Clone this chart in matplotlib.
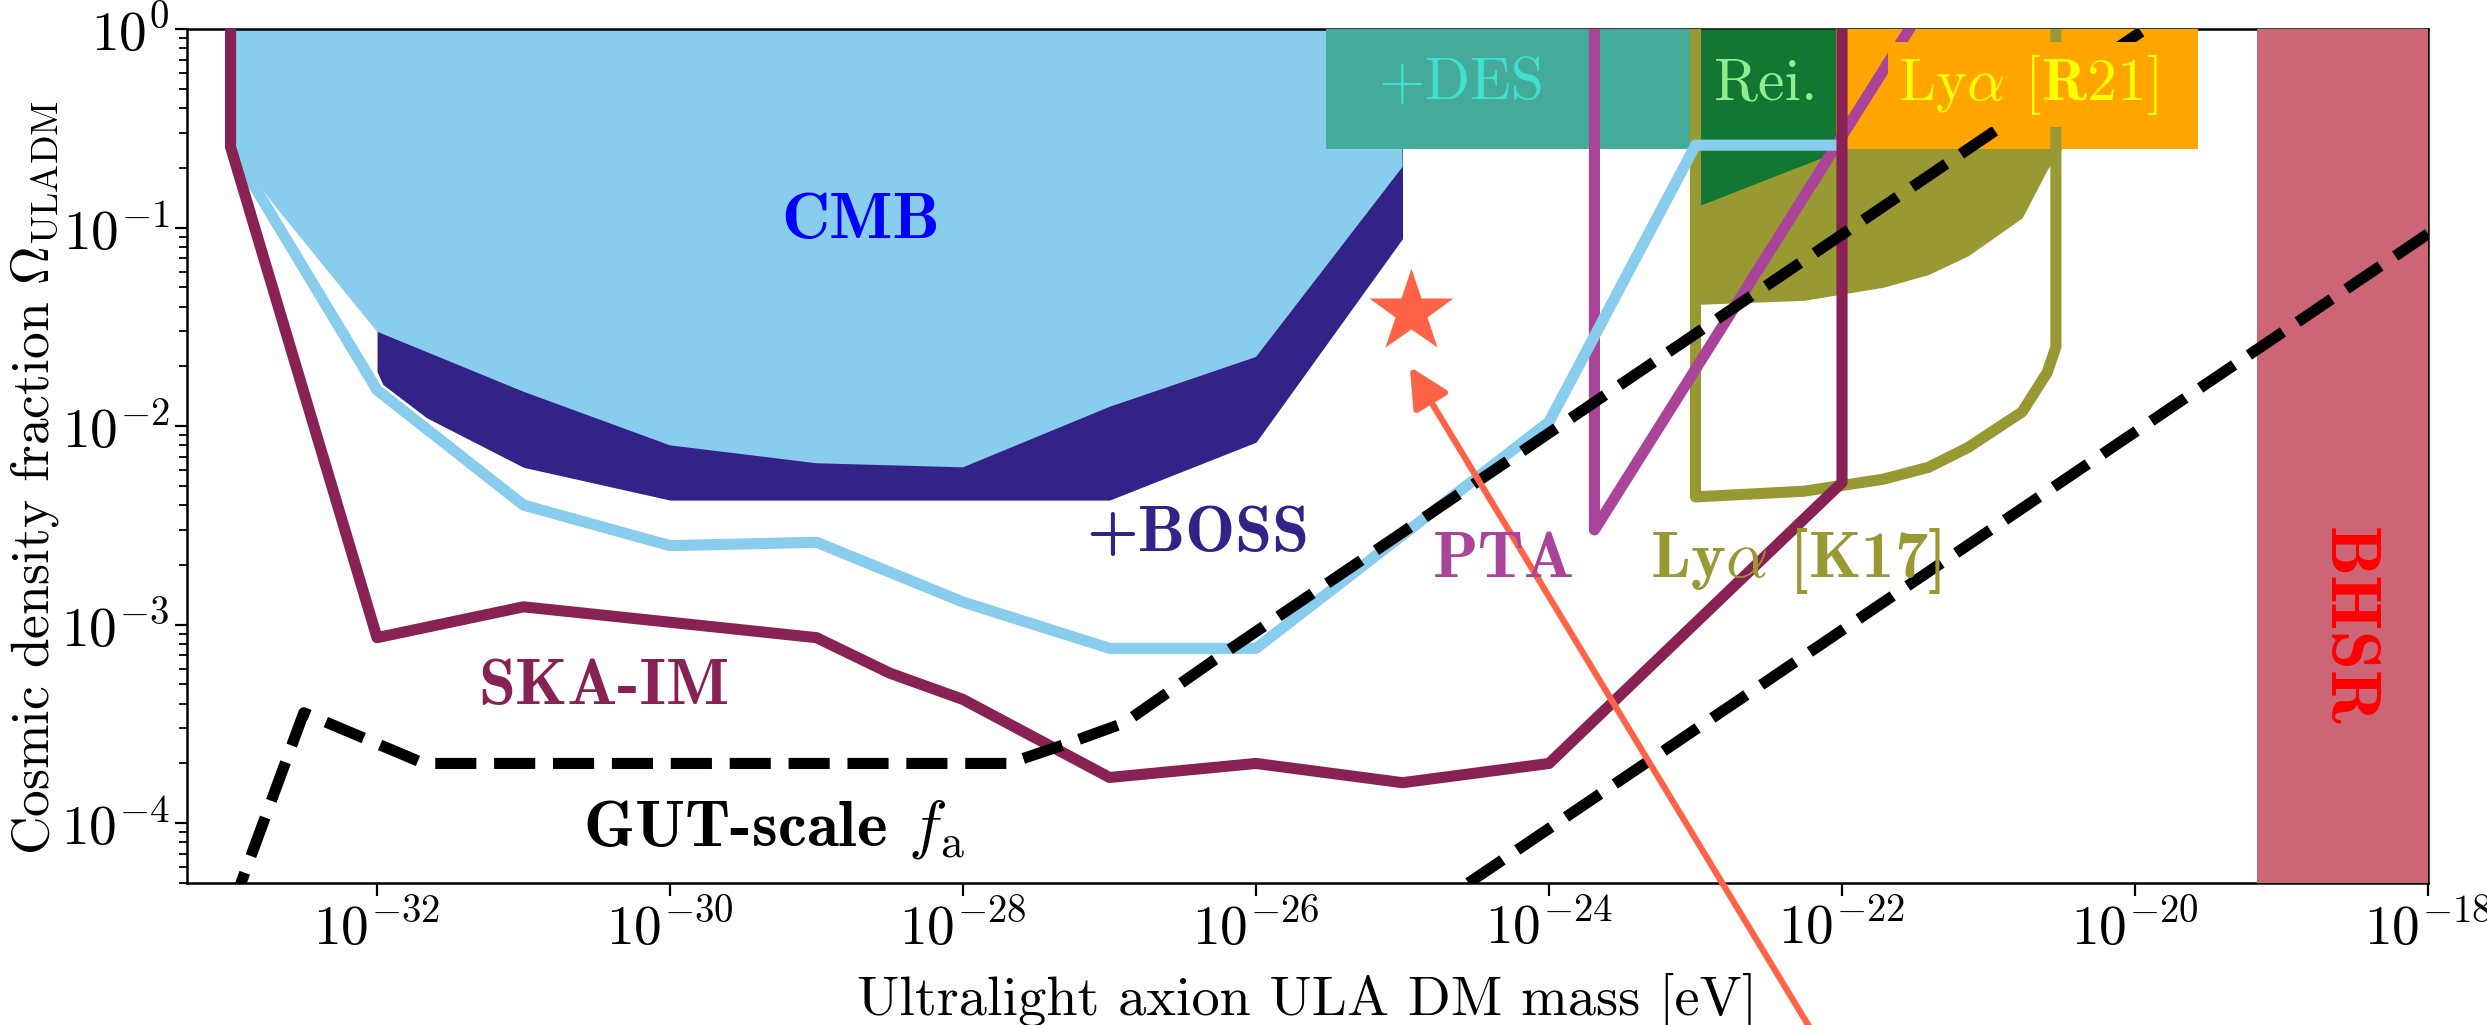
import numpy as np
import matplotlib
matplotlib.use("Agg")
import matplotlib.pyplot as plt
from matplotlib.ticker import NullLocator, LogLocator

plt.rcParams.update({
    "font.family": "serif",
    "font.serif": ["cmr10"],
    "mathtext.fontset": "cm",
    "axes.formatter.use_mathtext": True,
    "axes.unicode_minus": False,
})

# masses given as log10(m / eV), density fractions as plain numbers
cmb_logm = [-33, -33, -32.71, -32, -31, -30, -29, -28, -27, -26, -25, -25]
cmb_omega = [1, 0.255, 0.132, 0.0299, 0.0149, 0.0080, 0.0065, 0.0062, 0.0125, 0.0223, 0.202, 1]

boss_logm = [-32, -31.96, -31.66, -31, -30, -29, -28, -27, -26, -25]
boss_omega = [0.0188, 0.0162, 0.011, 0.0062, 0.00424, 0.00424, 0.00424, 0.00424, 0.0083, 0.088]

cmbs4_logm = [-33, -33, -32, -31, -30, -29, -28, -27, -26, -24, -23, -22]
cmbs4_omega = [1, 0.255, 0.0152, 0.0040, 0.0025, 0.0026, 0.0013, 0.00076, 0.00076, 0.0105, 0.26, 0.26]

ska_logm = [-33, -33, -32, -31, -29, -28.5, -28, -27, -26, -25, -24, -22, -22]
ska_omega = [1, 0.255, 8.6e-4, 1.23e-3, 8.6e-4, 5.7e-4, 4.2e-4, 1.7e-4, 2.0e-4, 1.6e-4, 2.0e-4, 5.2e-3, 1]

pta_logm = [-23.69, -23.69, -21.54]
pta_omega = [1, 3.0e-3, 1]

k17_fill_logm = [-23.0, -22.26, -21.72, -21.41, -21.14, -20.77, -20.6, -20.5]
k17_fill_omega = [0.041, 0.043, 0.050, 0.058, 0.072, 0.112, 0.195, 0.25]
k17_line_logm = [-23.0, -23.0, -22.26, -21.72, -21.41, -21.14, -20.77, -20.6, -20.54, -20.54]
k17_line_omega = [1, 0.0044, 0.0047, 0.0054, 0.0062, 0.0078, 0.0118, 0.0186, 0.025, 1]

rei_logm = [-23.0, -22.04]
rei_omega = [0.127, 0.24]

gut_logm = [-33.0, -32.5, -31.68, -27.69, -27.3, -26.9, -26.24, -19.93]
gut_omega = [3.6e-5, 3.6e-4, 2.0e-4, 2.0e-4, 2.5e-4, 3.2e-4, 7.0e-4, 1.0]
gut2_logm = [-24.55, -18.0]
gut2_omega = [5e-5, 0.093]

des_logm = [-25.52, -23.02]
r21_logm = [-22.04, -19.57]
bhsr_logm = [-19.17, -18.0]
box_floor = 0.249

star_logm, star_omega = -24.94, 0.0377
arrow_tip = (-24.95, 0.0199)
arrow_tail = (-21.96, 4.5e-6)


def m(v):
    return 10.0 ** np.asarray(v, dtype=float)


cmb_blue = "#88CCEE"
indigo = "#332288"
teal = "#44AA99"
green = "#117733"
olive = "#999933"
rose = "#CC6677"
wine = "#882255"
purple = "#AA4499"
orange = "#FFA500"
tomato = "#FF6347"

fig = plt.figure(figsize=(24.87, 10.25), dpi=100)
ax = fig.add_axes([0.07503, 0.13854, 0.90125, 0.83317])
ax.set_xscale("log")
ax.set_yscale("log")

# excluded regions
ax.fill_between(m(boss_logm), boss_omega, 1, color=indigo, lw=0, zorder=1)
ax.fill(m(cmb_logm), cmb_omega, color=cmb_blue, lw=0, zorder=1.1)
ax.fill_between(m(k17_fill_logm), k17_fill_omega, 1, color=olive, lw=0, zorder=1)
ax.fill_between(m(rei_logm), rei_omega, 1, color=green, lw=0, zorder=2.6)
ax.fill_between(m(des_logm), box_floor, 1, color=teal, lw=0, zorder=2.6)
ax.fill_between(m(r21_logm), box_floor, 1, color=orange, lw=0, zorder=2.6)
ax.fill_between(m(bhsr_logm), 5e-5, 1, color=rose, lw=0, zorder=2.6)

# forecasts and other bounds
lw = 8
ax.plot(m(k17_line_logm), k17_line_omega, color=olive, lw=lw, zorder=3)
ax.plot(m(pta_logm), pta_omega, color=purple, lw=lw, zorder=3.1)
ax.plot(m(cmbs4_logm), cmbs4_omega, color=cmb_blue, lw=lw, zorder=3.2)
ax.plot(m(ska_logm), ska_omega, color=wine, lw=lw, zorder=3.3)
ax.plot(m(gut_logm), gut_omega, color="black", lw=lw, ls="--", zorder=3.4)
ax.plot(m(gut2_logm), gut2_omega, color="black", lw=lw, ls="--", zorder=3.4)

ax.plot([10.0 ** star_logm], [star_omega], marker="*", ms=63, color=tomato,
        mec="none", zorder=4)
ax.annotate("", xy=(10.0 ** arrow_tip[0], arrow_tip[1]),
            xytext=(10.0 ** arrow_tail[0], arrow_tail[1]),
            arrowprops=dict(arrowstyle="-|>", color=tomato, lw=4.5,
                            mutation_scale=60, shrinkA=0, shrinkB=0),
            annotation_clip=False, zorder=4)

fs = 43
bfs = 48
bold = "cmb10"
ax.text(10 ** -28.70, 10 ** -0.972, "CMB", color="#0000FF", fontsize=bfs,
        family=bold, ha="center", va="center", zorder=6)
ax.text(10 ** -26.40, 10 ** -2.55, "+BOSS", color=indigo, fontsize=bfs,
        family=bold, ha="center", va="center", zorder=6)
ax.text(10 ** -30.45, 10 ** -3.32, "SKA-IM", color=wine, fontsize=bfs,
        family=bold, ha="center", va="center", zorder=6)
ax.text(10 ** -29.29, 10 ** -4.03, r"GUT-scale $f_{\rm a}$", color="black",
        fontsize=47, family=bold, ha="center", va="center", zorder=6)
ax.text(10 ** -24.31, 10 ** -2.68, "PTA", color=purple, fontsize=bfs,
        family=bold, ha="center", va="center", zorder=6)
ax.text(10 ** -22.32, 10 ** -2.68, r"Ly$\alpha$ [K17]", color=olive, fontsize=bfs,
        family=bold, ha="center", va="center", zorder=6)
ax.text(10 ** -24.60, 10 ** -0.28, "+DES", color="#40E0D0", fontsize=fs,
        ha="center", va="center", zorder=6,
        bbox=dict(boxstyle="square,pad=0.17", fc=teal, ec="none"))
ax.text(10 ** -22.52, 10 ** -0.277, "Rei.", color="#90EE90", fontsize=fs,
        ha="center", va="center", zorder=6,
        bbox=dict(boxstyle="square,pad=0.17", fc=green, ec="none"))
ax.text(10 ** -20.73, 10 ** -0.28, r"Ly$\alpha$ [$\mathbf{R21}$]", color="yellow",
        fontsize=fs, ha="center", va="center", zorder=6,
        bbox=dict(boxstyle="square,pad=0.17", fc=orange, ec="none"))
ax.text(10 ** -18.56, 10 ** -3.01, "BHSR", color="red", fontsize=51,
        family=bold, rotation=-90, ha="center", va="center", zorder=6)

ax.set_xlim(10 ** -33.3, 1e-18)
ax.set_ylim(5e-5, 1)
ax.set_xticks(m(np.arange(-32, -17, 2)))
ax.xaxis.set_minor_locator(NullLocator())
ax.yaxis.set_major_locator(LogLocator(base=10, numticks=10))
ax.yaxis.set_minor_locator(LogLocator(base=10, subs=np.arange(2, 10), numticks=10))
ax.tick_params(which="major", direction="out", length=9, width=1.6, labelsize=40)
ax.tick_params(which="minor", direction="out", length=5.5, width=1.3)
for s in ax.spines.values():
    s.set_linewidth(1.8)

ax.set_xlabel("Ultralight axion ULA DM mass [eV]", fontsize=40.5, labelpad=12)
ax.set_ylabel(r"Cosmic density fraction $\Omega_{\rm ULADM}$", fontsize=38.5)
ax.yaxis.set_label_coords(-0.056, 0.475)

fig.savefig("out.png", dpi=100)
